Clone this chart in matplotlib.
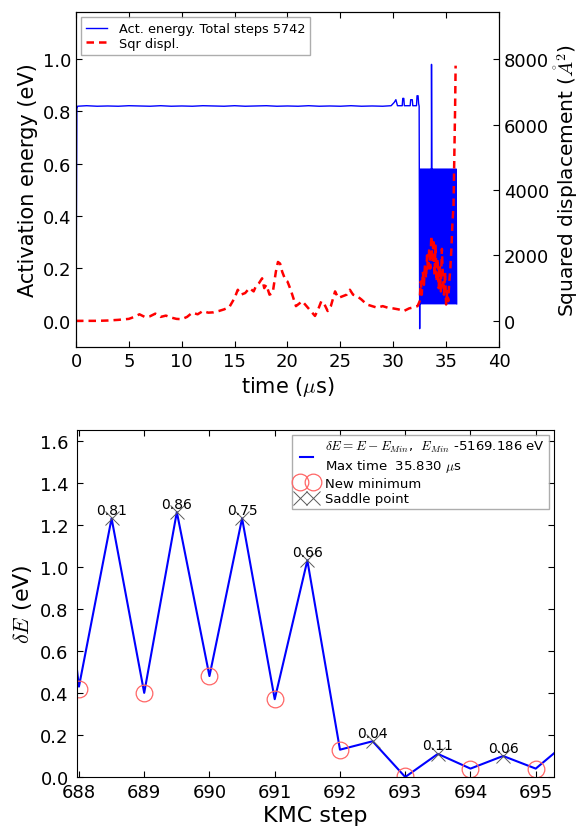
import matplotlib.pyplot as plt
import numpy as np

plt.rcParams["mathtext.fontset"] = "cm"

# top panel: activation energy (eV) vs time (us)
act_time = [0.0, 0.08, 0.15, 1.0, 2.0, 3.0, 4.0, 5.0, 6.0, 7.0, 8.0, 9.0, 10.0,
            11.0, 12.0, 13.0, 14.0, 15.0, 16.0, 17.0, 18.0, 19.0, 20.0, 21.0,
            22.0, 23.0, 24.0, 25.0, 26.0, 27.0, 28.0, 29.0, 29.8, 30.1, 30.25,
            30.4, 30.85, 30.9, 31.0, 31.05, 31.6, 31.65, 31.8, 31.85, 32.2,
            32.25, 32.35, 32.4, 32.45, 32.5, 32.55, 32.6, 32.65, 32.7, 32.75,
            32.8, 32.85, 32.9, 32.95, 33.0, 33.05, 33.1, 33.15, 33.2, 33.25,
            33.3, 33.35, 33.4, 33.45, 33.5, 33.55, 33.6, 33.62, 33.65, 33.7,
            33.75, 33.8, 33.85, 33.9, 33.95, 34.0, 34.05, 34.1, 34.15, 34.2,
            34.25, 34.3, 34.35, 34.4, 34.45, 34.5, 34.55, 34.6, 34.65, 34.7,
            34.75, 34.8, 34.85, 34.9, 34.95, 35.0, 35.05, 35.1, 35.15, 35.2,
            35.25, 35.3, 35.35, 35.4, 35.45, 35.5, 35.55, 35.6, 35.65, 35.7,
            35.75, 35.8, 35.85, 35.9, 35.95, 36.0]
act_energy = [0.0, 0.81, 0.82, 0.822, 0.82, 0.821, 0.82, 0.822, 0.821, 0.82,
              0.822, 0.82, 0.821, 0.82, 0.822, 0.821, 0.82, 0.822, 0.82, 0.821,
              0.822, 0.82, 0.821, 0.82, 0.822, 0.82, 0.821, 0.82, 0.822, 0.82,
              0.821, 0.82, 0.822, 0.835, 0.845, 0.822, 0.822, 0.85, 0.85,
              0.822, 0.822, 0.845, 0.845, 0.822, 0.822, 0.86, 0.86, 0.83,
              0.82, -0.03, 0.58, 0.065, 0.58, 0.065, 0.58, 0.065, 0.58, 0.065,
              0.58, 0.065, 0.58, 0.065, 0.58, 0.065, 0.58, 0.065, 0.58, 0.065,
              0.58, 0.065, 0.58, 0.065, 0.98, 0.58, 0.065, 0.58, 0.065, 0.58,
              0.065, 0.58, 0.065, 0.58, 0.065, 0.58, 0.065, 0.58, 0.065, 0.58,
              0.065, 0.58, 0.065, 0.58, 0.065, 0.58, 0.065, 0.58, 0.065, 0.58,
              0.065, 0.58, 0.065, 0.58, 0.065, 0.58, 0.065, 0.58, 0.065, 0.58,
              0.065, 0.58, 0.065, 0.58, 0.065, 0.58, 0.065, 0.58, 0.065, 0.58,
              0.065, 0.58, 0.065]

# top panel: squared displacement (A^2) vs time (us)
sd_time = [0, 1, 2, 3, 4, 5, 5.5, 6, 6.5, 7, 7.5, 8, 8.5, 9, 9.5, 10, 10.5, 11,
           11.5, 12, 12.5, 13, 13.5, 14, 14.5, 15, 15.3, 15.6, 16, 16.4, 16.8,
           17, 17.3, 17.6, 17.8, 18, 18.3, 18.6, 18.9, 19.1, 19.3, 19.5, 19.8,
           20, 20.3, 20.6, 20.8, 21, 21.4, 21.8, 22.2, 22.6, 22.9, 23.2, 23.5,
           23.8, 24.1, 24.5, 24.8, 25.2, 25.6, 25.9, 26.2, 26.6, 27, 27.5, 28,
           28.5, 29, 29.5, 30, 30.5, 31, 31.5, 32, 32.3, 32.5, 32.6, 32.7,
           32.8, 32.9, 33.0, 33.1, 33.2, 33.3, 33.4, 33.5, 33.6, 33.7, 33.8,
           33.9, 34.0, 34.1, 34.2, 34.3, 34.4, 34.5, 34.6, 34.7, 34.8, 34.9,
           35.0, 35.1, 35.2, 35.3, 35.4, 35.5, 35.6, 35.7, 35.75, 35.8, 35.85,
           35.9]
sd_value = [0, 0, 0, 10, 30, 60, 120, 200, 120, 140, 220, 120, 160, 100, 60,
            50, 120, 250, 200, 300, 250, 260, 300, 350, 420, 700, 950, 800,
            850, 1000, 900, 1050, 1150, 1300, 1000, 1100, 800, 850, 1500, 1800,
            1750, 1500, 1250, 1200, 950, 650, 450, 500, 600, 450, 300, 150,
            350, 600, 500, 300, 450, 900, 700, 750, 800, 950, 800, 750, 650,
            500, 450, 400, 450, 400, 380, 350, 300, 380, 420, 450, 600, 1200,
            800, 1500, 1100, 1700, 1300, 2000, 1500, 2200, 1600, 2600, 1800,
            2500, 1400, 2300, 1200, 1900, 1000, 1700, 900, 2200, 1300, 800,
            1500, 500, 900, 600, 1200, 1600, 2200, 3000, 3500, 4500, 5500,
            6500, 7800]

# bottom panel: energy profile along KMC steps
kmc_step = [687.5, 688.0, 688.5, 689.0, 689.5, 690.0, 690.5, 691.0, 691.5,
            692.0, 692.5, 693.0, 693.5, 694.0, 694.5, 695.0, 695.5]
delta_e = [1.75, 0.43, 1.23, 0.40, 1.26, 0.48, 1.23, 0.37, 1.03, 0.13, 0.17,
           0.00, 0.11, 0.04, 0.10, 0.04, 0.17]
min_step = [688, 689, 690, 691, 692, 693, 694, 695]
min_e = [0.42, 0.40, 0.48, 0.37, 0.13, 0.005, 0.04, 0.04]
saddle_step = [688.5, 689.5, 690.5, 691.5, 692.5, 693.5, 694.5]
saddle_e = [1.23, 1.26, 1.23, 1.03, 0.17, 0.11, 0.10]
barrier_labels = ["0.81", "0.86", "0.75", "0.66", "0.04", "0.11", "0.06"]


def style_axis(ax):
    ax.tick_params(direction="in", labelsize=13, length=4, top=True)


fig = plt.figure(figsize=(5.86, 8.29), dpi=100)

ax1 = fig.add_axes([0.1297, 0.5802, 0.7218, 0.4041])
ax1.plot(act_time, act_energy, color="blue", lw=1.0,
         label="Act. energy. Total steps 5742")
ax1.set_xlim(0, 40)
ax1.set_ylim(-0.1, 1.18)
ax1.set_xticks(np.arange(0, 41, 5))
ax1.set_yticks([0.0, 0.2, 0.4, 0.6, 0.8, 1.0])
ax1.set_xlabel(r"time ($\mu$s)", fontsize=15, labelpad=3)
ax1.set_ylabel("Activation energy (eV)", fontsize=15, labelpad=3)
style_axis(ax1)
ax1.tick_params(right=False)

ax2 = ax1.twinx()
ax2.plot(sd_time, sd_value, color="red", ls=(0, (3, 2)), lw=1.8,
         label="Sqr displ.")
ax2.set_ylim(-800, 9440)
ax2.set_yticks([0, 2000, 4000, 6000, 8000])
ax2.set_ylabel(r"Squared displacement ($\mathring{A}^2$)", fontsize=14.5,
               labelpad=2)
ax2.tick_params(direction="in", labelsize=13, length=4)

h1, l1 = ax1.get_legend_handles_labels()
h2, l2 = ax2.get_legend_handles_labels()
ax2.legend(h1 + h2, l1 + l2, loc="upper left", fontsize=9.3, fancybox=False,
           edgecolor="0.6", borderaxespad=0.4, handlelength=1.6,
           handletextpad=0.9, labelspacing=0.1)

ax3 = fig.add_axes([0.1314, 0.0615, 0.8140, 0.4186])
ax3.plot(kmc_step, delta_e, color="blue", lw=1.5,
         label=r"$\delta E = E - E_{Min}$,  $E_{Min}$ -5169.186 eV" + "\n"
         + r"Max time  35.830 $\mu$s")
ax3.plot(min_step, min_e, ls="none", marker="o", ms=12, mfc="none",
         mec="#ff6666", mew=0.9, label="New minimum")
ax3.plot(saddle_step, saddle_e, ls="none", marker="x", ms=10, mec="0.35",
         mew=0.7, label="Saddle point")
for x, y, txt in zip(saddle_step, saddle_e, barrier_labels):
    ax3.annotate(txt, (x, y), xytext=(0, 1), textcoords="offset points",
                 ha="center", va="bottom", fontsize=10)
ax3.set_xlim(687.97, 695.28)
ax3.set_ylim(0, 1.65)
ax3.set_xticks(np.arange(688, 696))
ax3.set_yticks([0.0, 0.2, 0.4, 0.6, 0.8, 1.0, 1.2, 1.4, 1.6])
ax3.set_xlabel("KMC step", fontsize=16, labelpad=3)
ax3.set_ylabel(r"$\delta E$ (eV)", fontsize=16)
style_axis(ax3)
ax3.tick_params(right=True)
ax3.tick_params(axis="y", pad=6)
ax3.tick_params(axis="x", pad=4)
ax3.legend(loc="upper right", fontsize=9.5, fancybox=False, edgecolor="0.6",
           numpoints=2, borderaxespad=0.4, labelspacing=0.2,
           handlelength=1.6, handletextpad=0.6, borderpad=0.3)

fig.savefig("out.png", dpi=100)
